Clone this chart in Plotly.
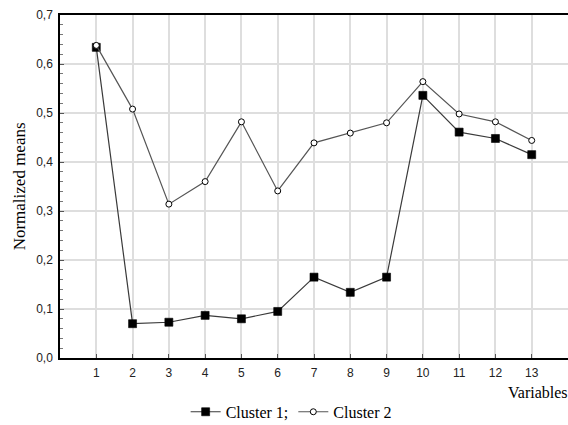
import plotly.graph_objects as go

variables = list(range(1, 14))
cluster1 = [0.634, 0.070, 0.073, 0.087, 0.080, 0.095, 0.165, 0.134, 0.165, 0.536, 0.461, 0.448, 0.415]
cluster2 = [0.638, 0.508, 0.314, 0.360, 0.482, 0.341, 0.439, 0.459, 0.480, 0.564, 0.498, 0.482, 0.444]

serif = "Liberation Serif"
sans = "Liberation Sans"

fig = go.Figure()
fig.add_trace(go.Scatter(
    x=variables, y=cluster1, mode="lines+markers", name="Cluster 1;",
    line=dict(color="#3a3a3a", width=1.2),
    marker=dict(symbol="square", size=8, color="black", line=dict(color="black", width=0.6)),
))
fig.add_trace(go.Scatter(
    x=variables, y=cluster2, mode="lines+markers", name="Cluster 2",
    line=dict(color="#555555", width=1.2),
    marker=dict(symbol="circle", size=6, color="white", line=dict(color="black", width=1)),
))

fig.update_layout(
    width=568, height=425,
    margin=dict(l=60, r=0, t=15, b=67, autoexpand=False),
    paper_bgcolor="white", plot_bgcolor="white",
    separators=",.",
    showlegend=True,
    legend=dict(orientation="h", x=0.455, xanchor="center", y=-0.157, yanchor="middle",
                font=dict(family=serif, size=16, color="black"), itemwidth=30,
                tracegroupgap=0),
    xaxis=dict(range=[0, 14], tickmode="array", tickvals=variables, automargin=False,
               showgrid=True, gridcolor="#dedede", gridwidth=1.5,
               showline=True, linecolor="black", linewidth=1.5, mirror=True,
               ticks="inside", ticklen=4, tickcolor="#555555", zeroline=False,
               ticklabelstandoff=3,
               tickfont=dict(family=sans, size=12, color="#222222")),
    yaxis=dict(range=[0, 0.7], dtick=0.1, tickformat=".1f", automargin=False,
               showgrid=True, gridcolor="#dedede", gridwidth=1.5,
               showline=True, linecolor="black", linewidth=1.5,
               ticks="inside", ticklen=4, tickcolor="#555555", zeroline=False,
               ticklabelstandoff=3,
               minor=dict(dtick=0.02, ticks="inside", ticklen=3, tickcolor="#777777", showgrid=False),
               tickfont=dict(family=sans, size=12, color="#222222")),
    annotations=[
        dict(text="Variables", x=1.003, xref="paper", xanchor="right",
             y=-0.102, yref="paper", yanchor="middle", showarrow=False,
             font=dict(family=serif, size=16, color="black")),
        dict(text="Normalized means", x=-0.079, xref="paper", xanchor="center",
             y=0.5, yref="paper", yanchor="middle", textangle=-90, showarrow=False,
             font=dict(family=serif, size=17, color="black")),
    ],
)

fig.write_html("out.html", config={"displayModeBar": False},
               post_script="document.body.style.margin='0';document.body.style.overflow='hidden';")
